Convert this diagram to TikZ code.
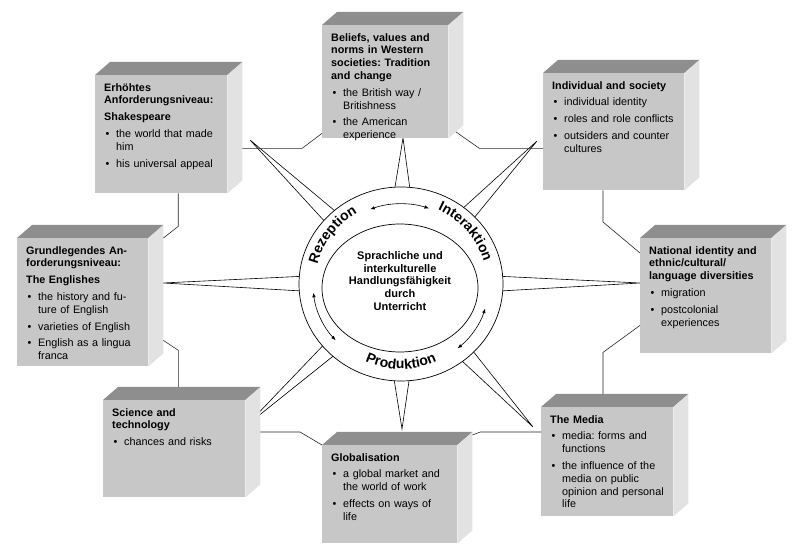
\documentclass[tikz,border=0pt]{standalone}
\usepackage{fontspec}
\setmainfont{Liberation Sans}
\frenchspacing
\usetikzlibrary{calc,arrows.meta,decorations.text}

\definecolor{frontgray}{RGB}{199,199,199}
\definecolor{topgray}{RGB}{142,142,142}
\definecolor{sidegray}{RGB}{226,226,226}

% bullet item inside a block
\newcommand\itm[1]{\par\vspace{4pt}\hangindent=12pt\hangafter=1\noindent\makebox[12pt][l]{\hspace{1.5pt}\textbullet}#1}
\newcommand\ringfont{\bfseries\fontsize{14}{14}\selectfont}
% top and side of a block
\newcommand\blockfaces[1]{%
  \fill[topgray] (#1.north west) -- ++(15,13) -- ([shift={(15,13)}]#1.north east) -- (#1.north east) -- cycle;
  \fill[sidegray] (#1.north east) -- ++(15,13) -- ([shift={(15,13)}]#1.south east) -- (#1.south east) -- cycle;
  \coordinate (#1-r) at ([xshift=15pt]#1.east);
  \coordinate (#1-t) at ([yshift=13pt]#1.north);}

\tikzset{
  block/.style={fill=frontgray, anchor=north west, inner xsep=9pt, inner ysep=7pt,
    text height=9pt, font=\fontsize{10.8}{12.8}\selectfont,
    execute at begin node={\rightskip=-40pt plus 1fil\relax}},
  link/.style={line width=0.6pt, black!85},
  spike/.style={line width=0.6pt},
  arr/.style={<->, >={Latex[length=4.5pt,width=3.5pt]}, line width=0.6pt}
}

\begin{document}
\begin{tikzpicture}[x=1pt,y=1pt]
\useasboundingbox (0,0) rectangle (800,553);
\coordinate (ctr) at (401,269);
\coordinate (ctrin) at (400,265);
% tips of the star
\coordinate (tipN) at (403,415);
\coordinate (tipS) at (402,124);
\coordinate (tipW) at (163,270);
\coordinate (tipE) at (640,270);
\coordinate (tipNW) at (250,413);
\coordinate (tipNE) at (537,412);
\coordinate (tipSW) at (247,128);
\coordinate (tipSE) at (533,126);
\foreach \t/\a in {tipN/89.2, tipS/270.4, tipW/179.8, tipE/0.2, tipNW/136.4, tipNE/46.4, tipSW/222.5, tipSE/312.7}
  \draw[spike] ($(ctr)+({\a+4.5}:96)$) -- (\t) -- ($(ctr)+({\a-4.5}:96)$);

% blocks
\node[block, text width=108pt, text depth=90pt] (belief) at (322,528)
  {\textbf{Beliefs, values and\\norms in Western\\societies: Tradition\\and change}\itm{the British way /\newline Britishness}\itm{the American\newline experience}\par};
\blockfaces{belief}
\node[block, text width=114pt, text depth=95pt] (shakes) at (95,478)
  {\textbf{Erhöhtes\\Anforderungsniveau:}\par\vspace{4pt}\textbf{Shakespeare}\itm{the world that made\newline him}\itm{his universal appeal}\par};
\blockfaces{shakes}
\node[block, text width=123pt, text depth=94pt] (indiv) at (543,480)
  {\textbf{Individual and society}\itm{individual identity}\itm{roles and role conflicts}\itm{outsiders and counter\newline cultures}\par};
\blockfaces{indiv}
\node[block, text width=113pt, text depth=92pt] (natid) at (640,315)
  {\textbf{National identity and\\ethnic/cultural/\\language diversities}\itm{migration}\itm{postcolonial\newline experiences}\par};
\blockfaces{natid}
\node[block, text width=113pt, text depth=105pt] (englishes) at (17,315)
  {\textbf{Grundlegendes An-\\forderungsniveau:}\par\vspace{4pt}\textbf{The Englishes}\itm{the history and fu-\newline ture of English}\itm{varieties of English}\itm{English as a lingua\newline franca}\par};
\blockfaces{englishes}
\node[block, text width=124pt, text depth=74pt] (science) at (103,153)
  {\textbf{Science and\\technology}\itm{chances and risks}\par};
\blockfaces{science}
\node[block, text width=117pt, text depth=75pt] (global) at (322,108)
  {\textbf{Globalisation}\itm{a global market and\newline the world of work}\itm{effects on ways of\newline life}\par};
\blockfaces{global}
\node[block, text width=114pt, text depth=86pt] (media) at (541,146)
  {\textbf{The Media}\itm{media: forms and\newline functions}\itm{the influence of the\newline media on public\newline opinion and personal\newline life}\par};
\blockfaces{media}

% links between the blocks
\draw[link] ([yshift=5pt]belief.south west) -- ++(-20,-15) coordinate (c1) -- (c1 -| shakes-r);
\draw[link] ([shift={(7.5,6.5)}]belief.south east) -- ++(23.5,-16.5) coordinate (c2) -- (c2 -| indiv.west);
\draw[link] ([xshift=17pt]shakes.south) -- ++(0,-33) -- ([xshift=15pt]englishes.north east);
\draw[link] ([shift={(15,26)}]englishes.south east) -- ++(15,-10) coordinate (c4) -- (c4 |- science-t);
\draw[link] (global.north west) -- ++(-22,13) coordinate (c5) -- (c5 -| science-r);
\draw[link] ([shift={(15,10)}]global.north east) -- ++(8,3) coordinate (c6) -- (c6 -| media.west);
\draw[link] ([yshift=28pt]natid.south west) -- ++(-37,-27) coordinate (c7) -- (c7 |- media-t);
\draw[link] ([yshift=-15pt]natid.north west) -- ++(-37,31) coordinate (c8) -- (c8 |- indiv.south);

% ring
\draw[fill=white, line width=0.7pt] (ctr) ellipse[x radius=102, y radius=97];
\draw[line width=0.7pt] (ctrin) ellipse[x radius=78, y radius=64];
\path[decorate, decoration={text along path, text align=center, text={|\ringfont|Rezeption}}]
  (ctr) ++(175.5:86 and 82) arc[start angle=175.5, end angle=111.5, x radius=86, y radius=82];
\path[decorate, decoration={text along path, text align=center, text={|\ringfont|Interaktion}}]
  (ctr) ++(72:86 and 82) arc[start angle=72, end angle=8, x radius=86, y radius=82];
\path[decorate, decoration={text along path, text align=center, text={|\ringfont|Produktion}}]
  (ctr) ++(235:86 and 85) arc[start angle=235, end angle=305, x radius=86, y radius=85];
\draw[arr] (ctr) ++(111:86 and 80) arc[start angle=111, end angle=71, x radius=86, y radius=80];
\draw[arr] (ctr) ++(186:88 and 84) arc[start angle=186, end angle=222, x radius=88, y radius=84];
\draw[arr] (ctr) ++(-17:88 and 84) arc[start angle=-17, end angle=-50, x radius=88, y radius=84];
\node[font=\bfseries\fontsize{11}{12.7}\selectfont, align=center] (core) at (400,272)
  {Sprachliche und\\interkulturelle\\Handlungsfähigkeit\\durch\\Unterricht};
\end{tikzpicture}
\end{document}
